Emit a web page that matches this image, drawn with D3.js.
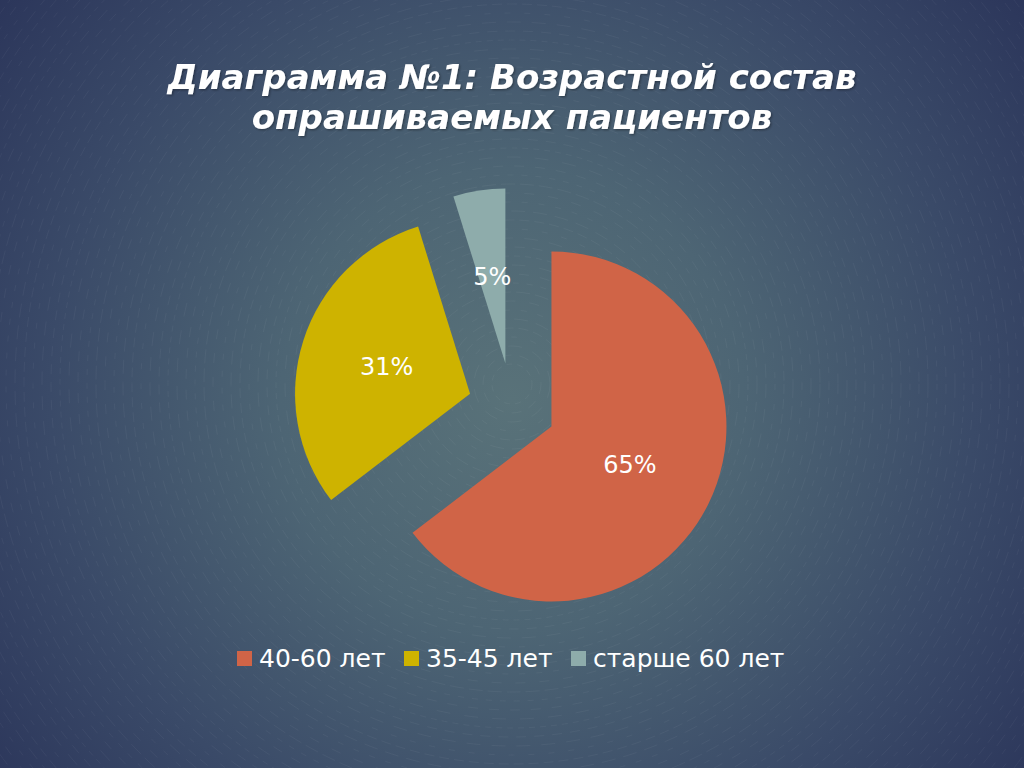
<!DOCTYPE html>
<html><head><meta charset="utf-8">
<script src="https://cdn.jsdelivr.net/npm/d3@7"></script>
<style>html,body{margin:0;padding:0;background:#2e3a5a;}svg{display:block;}</style>
</head><body>
<script>
const categories = ["40-60 лет", "35-45 лет", "старше 60 лет"];
const values = [64.6, 30.6, 4.8];
const labels = ["65%", "31%", "5%"];
const colors = ["#d06447", "#ceb300", "#8eacab"];
const titleLines = ["Диаграмма №1: Возрастной состав", "опрашиваемых пациентов"];

const W = 1024, H = 768;
const svg = d3.select("body").append("svg").attr("width", W).attr("height", H);
const defs = svg.append("defs");
const g = defs.append("radialGradient").attr("id","bg").attr("gradientUnits","userSpaceOnUse")
  .attr("cx",512).attr("cy",400).attr("r",660);
[[0,"#597279"],[0.35,"#4d6574"],[0.7,"#3a4a68"],[1,"#2b355a"]].forEach(([o,c])=>g.append("stop").attr("offset",o).attr("stop-color",c));
svg.append("rect").attr("width",W).attr("height",H).attr("fill","url(#bg)");

// faint concentric dashed rings
const rings = svg.append("g").attr("fill","none").attr("stroke","#ffffff").attr("stroke-opacity",0.045).attr("stroke-width",1);
d3.range(20, 700, 9).forEach((r,i)=>{
  rings.append("circle").attr("cx",512).attr("cy",384).attr("r",r)
    .attr("stroke-dasharray", (6 + (i%3)*4) + " " + (5 + (i%4)*3));
});

const sh = defs.append("filter").attr("id","tshadow").attr("x","-10%").attr("y","-20%").attr("width","120%").attr("height","150%");
sh.append("feDropShadow").attr("dx",1.2).attr("dy",1.2).attr("stdDeviation",0.8).attr("flood-color","#000").attr("flood-opacity",0.35);

svg.append("g").selectAll("text").data(titleLines).join("text")
  .attr("x",512).attr("y",(d,i)=>89 + i*40)
  .attr("text-anchor","middle")
  .attr("font-family","DejaVu Sans").attr("font-weight","bold").attr("font-style","italic")
  .attr("font-size",34).attr("fill","#ffffff").attr("filter","url(#tshadow)")
  .text(d=>d);

const cx = 512, cy = 407, R = 175, explode = 44;
const pie = d3.pie().sort(null).value(d=>d)(values);
const arc = d3.arc().innerRadius(0).outerRadius(R);
const slices = svg.append("g").attr("transform",`translate(${cx},${cy})`);
pie.forEach((p,i)=>{
  const mid = (p.startAngle+p.endAngle)/2;
  const dx = Math.sin(mid)*explode, dy = -Math.cos(mid)*explode;
  const gg = slices.append("g").attr("transform",`translate(${dx},${dy})`);
  gg.append("path").attr("d",arc(p)).attr("fill",colors[i]);
  const lr = R*0.5;
  gg.append("text").attr("x",Math.sin(mid)*lr).attr("y",-Math.cos(mid)*lr)
    .attr("text-anchor","middle").attr("dominant-baseline","central")
    .attr("font-family","DejaVu Sans").attr("font-size",24).attr("fill","#ffffff")
    .text(labels[i]);
});

// legend
const leg = svg.append("g");
const xs = [237, 404, 571];
categories.forEach((c,i)=>{
  leg.append("rect").attr("x",xs[i]).attr("y",651).attr("width",15).attr("height",15).attr("fill",colors[i]);
  leg.append("text").attr("x",xs[i]+22).attr("y",667)
    .attr("font-family","DejaVu Sans").attr("font-size",25).attr("fill","#ffffff").text(c);
});
</script>
</body></html>
